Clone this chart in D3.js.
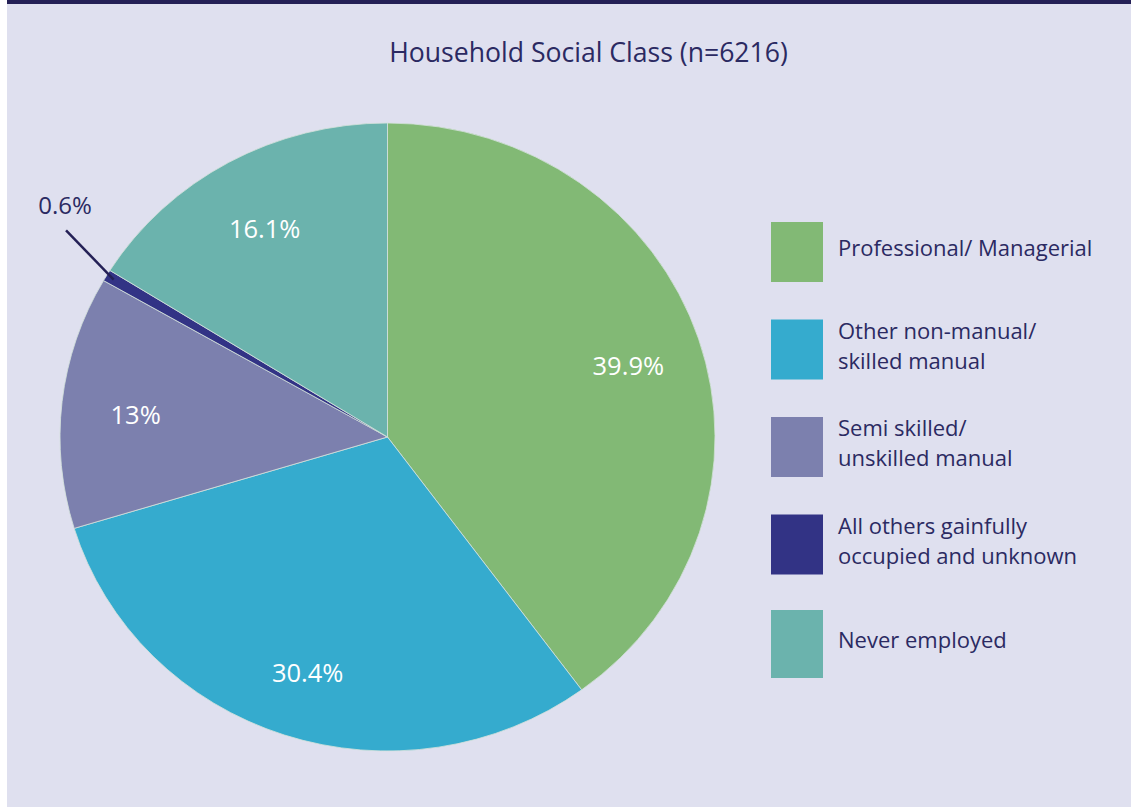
<!DOCTYPE html>
<html>
<head>
<meta charset="utf-8">
<script src="https://cdn.jsdelivr.net/npm/d3@7"></script>
<style>
  html, body { margin: 0; padding: 0; background: #ffffff; }
  svg { display: block; }
  text { font-family: "Open Sans", "Noto Sans", sans-serif; }
</style>
</head>
<body>
<svg id="chart" width="1131" height="807"></svg>
<script>
// Household social class breakdown (percent of households)
const categories = [
  "Professional/ Managerial",
  "Other non-manual/ skilled manual",
  "Semi skilled/ unskilled manual",
  "All others gainfully occupied and unknown",
  "Never employed"
];
const legendLines = [
  ["Professional/ Managerial"],
  ["Other non-manual/", "skilled manual"],
  ["Semi skilled/", "unskilled manual"],
  ["All others gainfully", "occupied and unknown"],
  ["Never employed"]
];
const values = [39.9, 30.4, 13, 0.6, 16.1];
const valueLabels = ["39.9%", "30.4%", "13%", "0.6%", "16.1%"];
const colors = ["#82b975", "#35abce", "#7c80ae", "#323385", "#6bb3ad"];
const titleText = "Household Social Class (n=6216)";

const W = 1131, H = 807;
const bg = "#dfe0ef", ink = "#2b2a62";
const svg = d3.select("#chart");

// panel background with a white margin on the left and a dark rule on top
svg.append("rect").attr("x", 7).attr("y", 0).attr("width", W - 7).attr("height", H).attr("fill", bg);
svg.append("rect").attr("x", 7).attr("y", 0).attr("width", W - 7).attr("height", 4).attr("fill", "#242056");

svg.append("text")
  .attr("x", 588.5).attr("y", 52)
  .attr("text-anchor", "middle")
  .attr("dominant-baseline", "central")
  .attr("font-size", 26.6)
  .attr("fill", ink)
  .text(titleText);

// pie, slightly wider than tall
const cx = 387.5, cy = 437, R = 314, sx = 1.043;
const pie = d3.pie().sort(null).value(d => d)(values);
const arc = d3.arc().innerRadius(0).outerRadius(R);

const g = svg.append("g").attr("transform", `translate(${cx},${cy}) scale(${sx},1)`);
g.selectAll("path").data(pie).join("path")
  .attr("d", arc)
  .attr("fill", (d, i) => colors[i])
  .attr("stroke", "#d4e2dc")
  .attr("stroke-width", 0.8);

// labels inside the slices
const labelArc = d3.arc().innerRadius(243).outerRadius(243);
const inside = pie.filter(d => d.value >= 5);
svg.selectAll("text.val").data(inside).join("text")
  .attr("class", "val")
  .attr("x", d => cx + labelArc.centroid(d)[0] * sx)
  .attr("y", d => cy + labelArc.centroid(d)[1] + 4)
  .attr("text-anchor", "middle")
  .attr("dominant-baseline", "central")
  .attr("font-size", 25.5)
  .attr("fill", "#ffffff")
  .text(d => valueLabels[d.index]);

// small slice: label outside with a leader line
const small = pie.filter(d => d.value < 5);
const polar = (a, r) => [cx + Math.sin(a) * r * sx, cy - Math.cos(a) * r];
small.forEach(d => {
  const mid = (d.startAngle + d.endAngle) / 2;
  const p0 = polar(mid, R * 0.975);
  const p1 = polar(mid + 0.05, 371);
  svg.append("line")
    .attr("x1", p0[0]).attr("y1", p0[1])
    .attr("x2", p1[0]).attr("y2", p1[1])
    .attr("stroke", "#242056").attr("stroke-width", 2.5);
  svg.append("text")
    .attr("x", p1[0] - 1).attr("y", p1[1] - 26)
    .attr("text-anchor", "middle")
    .attr("dominant-baseline", "central")
    .attr("font-size", 24)
    .attr("fill", ink)
    .text(valueLabels[d.index]);
});

// legend
const lgX = 771, lgY = 222, lgStep = 97.5, boxW = 52;
const boxH = [60, 60, 60, 60, 68];
const lg = svg.append("g");
categories.forEach((c, i) => {
  const y = lgY + i * lgStep + (i === 4 ? -2 : 0);
  lg.append("rect")
    .attr("x", lgX).attr("y", y)
    .attr("width", boxW).attr("height", boxH[i])
    .attr("fill", colors[i]);
  const lines = legendLines[i];
  const mid = y + boxH[i] / 2 - 5;
  lines.forEach((ln, j) => {
    lg.append("text")
      .attr("x", 838)
      .attr("y", mid + (j - (lines.length - 1) / 2) * 30)
      .attr("dominant-baseline", "central")
      .attr("font-size", 22)
      .attr("fill", ink)
      .text(ln);
  });
});
</script>
</body>
</html>
